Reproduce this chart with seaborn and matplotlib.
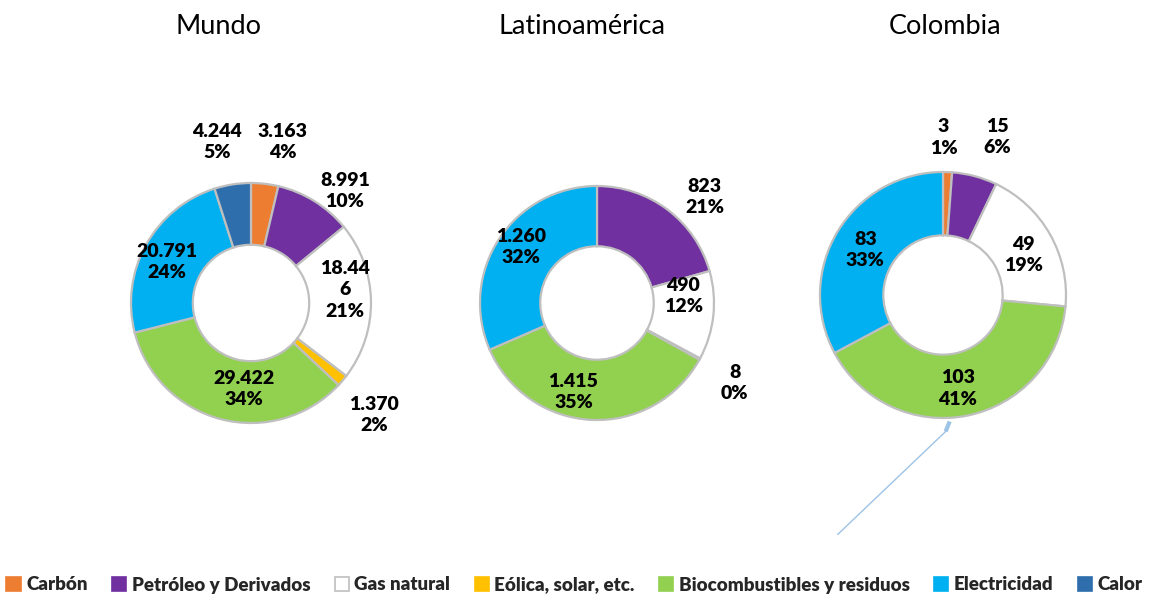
import numpy as np
import matplotlib
matplotlib.use("Agg")
import matplotlib.pyplot as plt
from matplotlib.patches import Patch
import seaborn as sns

# Energy consumption by source (thousands of TJ), by region
categories = ["Carbón", "Petróleo y Derivados", "Gas natural", "Eólica, solar, etc.",
              "Biocombustibles y residuos", "Electricidad", "Calor"]
mundo = [3163, 8991, 18446, 1370, 29422, 20791, 4244]
latinoamerica = [0, 823, 490, 8, 1415, 1260, 0]
colombia = [3, 15, 49, 0, 103, 83, 0]
regions = ["Mundo", "Latinoamérica", "Colombia"]

colors = ["#ED7D31", "#7030A0", "#FFFFFF", "#FFC000", "#92D050", "#00B0F0", "#2E6EAD"]

sns.set_theme(style="white")
plt.rcParams["font.family"] = ["Lato", "DejaVu Sans"]

W, H = 1149, 594
fig = plt.figure(figsize=(W / 100, H / 100), dpi=100)

# donut placement in pixels: centre x, centre y (from top), outer radius
layout = {
    "Mundo": (251, 303, 120),
    "Latinoamérica": (597, 303, 117),
    "Colombia": (943, 295, 123),
}
title_x = {"Mundo": 219, "Latinoamérica": 582, "Colombia": 945}

# label placement: (angle nudge in degrees, distance as fraction of outer radius)
label_pos = {
    "Mundo": {0: (-4.6, 1.37), 1: (-8, 1.22), 2: (7, 0.79), 3: (-2, 1.39),
              4: (10, 0.72), 5: (3, 0.78), 6: (3, 1.37)},
    "Latinoamérica": {1: (-8.5, 1.29), 2: (11, 0.74), 3: (-1.5, 1.36),
                      4: (-12, 0.79), 5: (-3, 0.81)},
    "Colombia": {0: (2, 1.28), 1: (-4, 1.36), 2: (-3, 0.73),
                 4: (-2.5, 0.77), 5: (1, 0.73)},
}
wrap_at = {("Mundo", 2): 5}

UNIT = 120.0
SIDE = 340


def fmt_thousands(v):
    return f"{v:,}".replace(",", ".")


for region, values in zip(regions, [mundo, latinoamerica, colombia]):
    cx, cy, R = layout[region]
    ax = fig.add_axes([(cx - SIDE / 2) / W, (H - cy - SIDE / 2) / H, SIDE / W, SIDE / H])

    idx = [i for i, v in enumerate(values) if v > 0]
    vals = [values[i] for i in idx]
    cols = [colors[i] for i in idx]
    r = R / UNIT
    wedges, _ = ax.pie(vals, colors=cols, startangle=90, counterclock=False, radius=r,
                       wedgeprops=dict(width=r * 0.515, edgecolor="#BFBFBF", linewidth=1.6))
    ax.set_xlim(-SIDE / 2 / UNIT, SIDE / 2 / UNIT)
    ax.set_ylim(-SIDE / 2 / UNIT, SIDE / 2 / UNIT)
    ax.set_aspect("equal")
    ax.axis("off")

    total = float(sum(vals))
    for w, i, v in zip(wedges, idx, vals):
        mid = (w.theta1 + w.theta2) / 2.0
        nudge, rf = label_pos[region][i]
        ang = np.deg2rad(mid + nudge)
        x, y = rf * r * np.cos(ang), rf * r * np.sin(ang)
        vtxt = fmt_thousands(v)
        if (region, i) in wrap_at:
            k = wrap_at[(region, i)]
            vtxt = vtxt[:k] + "\n" + vtxt[k:]
        pct = f"{round(100 * v / total):.0f}%"
        ax.text(x, y, vtxt + "\n" + pct, ha="center", va="center", fontsize=14,
                fontweight="heavy", color="black", linespacing=1.3)

    fig.text(title_x[region] / W, 1 - 27 / H, region, ha="center", va="center",
             fontsize=19.5, color="black")

    if region == "Colombia":
        # stray leader line below the biofuel segment
        a0 = np.deg2rad(-87)
        x0, y0 = 1.03 * r * np.cos(a0), 1.03 * r * np.sin(a0)
        x1, y1 = x0 - 4 / UNIT, y0 - 10 / UNIT
        ax.plot([x0, x1], [y0, y1], color="#9DC3E6", lw=3, solid_capstyle="butt",
                clip_on=False)
        ax.plot([x1, x1 - 108 / UNIT], [y1, y1 - 103 / UNIT], color="#9DC3E6", lw=1.0,
                clip_on=False)

handles = []
for c, name in zip(colors, categories):
    ec = "#BFBFBF" if c == "#FFFFFF" else c
    handles.append(Patch(facecolor=c, edgecolor=ec, linewidth=1.2, label=name))
leg = fig.legend(handles=handles, loc="center", bbox_to_anchor=(0.5, 1 - 585 / H), ncol=7,
                 frameon=False, fontsize=13.5, handlelength=0.75, handleheight=0.75,
                 handletextpad=0.3, columnspacing=1.3, borderaxespad=0)
for t in leg.get_texts():
    t.set_fontweight("heavy")

fig.savefig("out.png", dpi=100, facecolor="white")
